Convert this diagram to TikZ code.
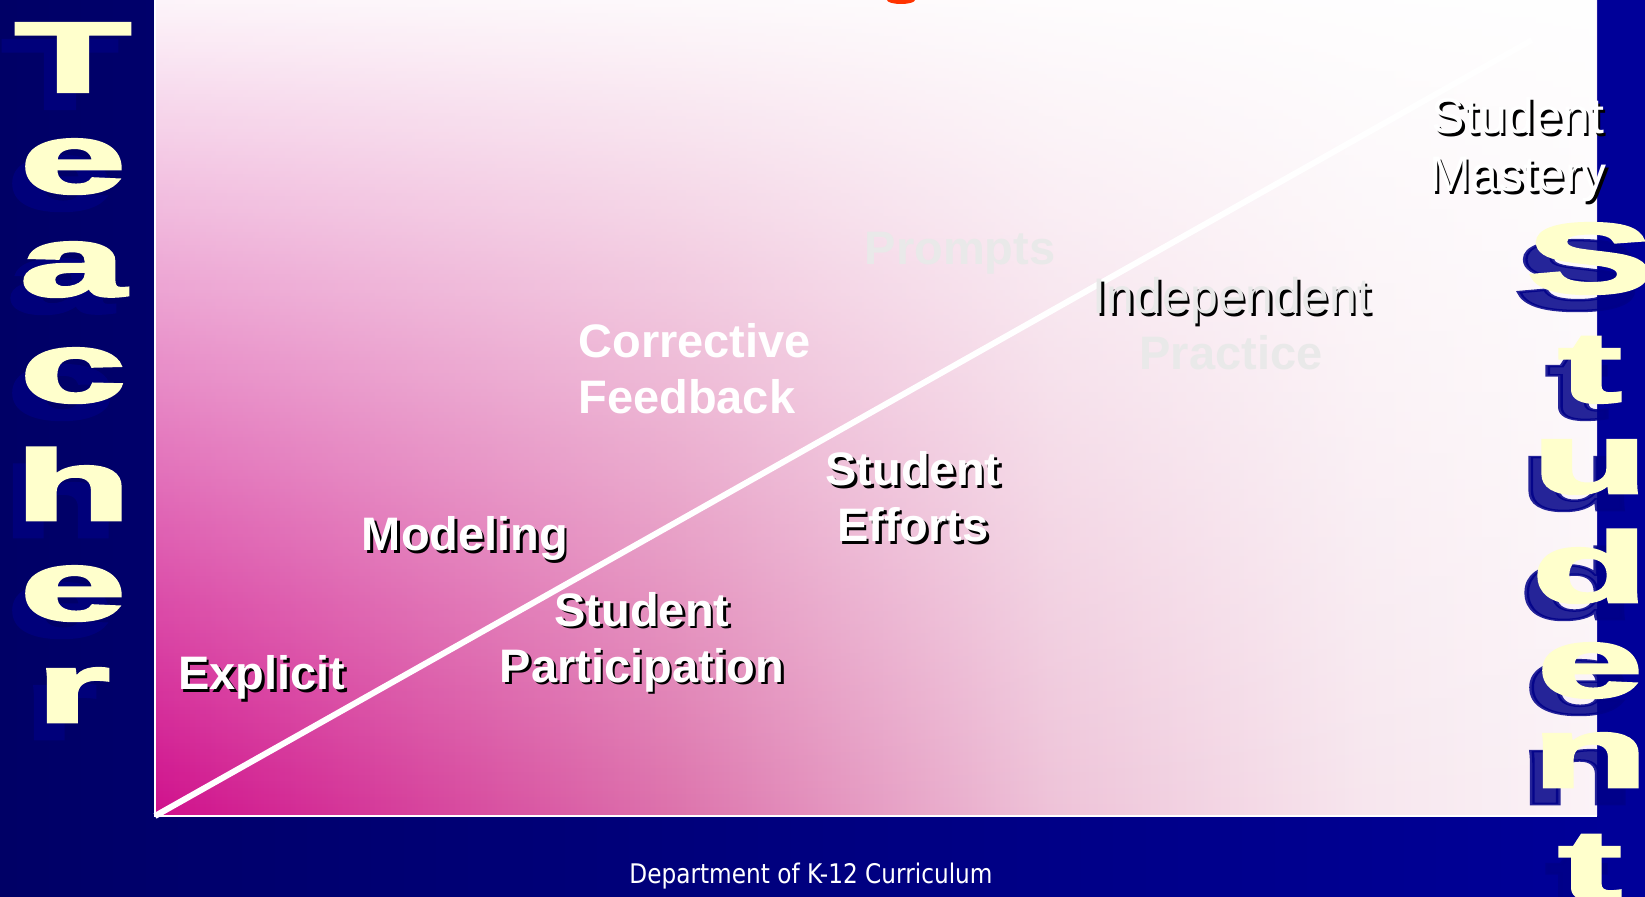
\documentclass[tikz,border=0pt]{standalone}
\usepackage{fontspec}
\usepackage{graphicx}
\setmainfont{Liberation Sans}
\newfontfamily\heavyfont[FakeBold=2.5]{Liberation Sans}
\newfontfamily\footfont{DejaVu Sans}
\usepackage{tikz}
\usetikzlibrary{fadings}

\definecolor{bgNavy}{HTML}{000066}
\definecolor{bgBlue}{HTML}{000099}
\definecolor{roseDeep}{HTML}{D0108C}
\definecolor{roseMid}{HTML}{DD72AC}
\definecolor{roseSoft}{HTML}{EEC2D8}
\definecolor{rosePale}{HTML}{F7E6EE}
\definecolor{roseWhite}{HTML}{FBF3F7}
\definecolor{creamText}{HTML}{FFFFCC}
\definecolor{letterShadow}{HTML}{00007A}
\definecolor{studShadowBlue}{HTML}{000088}
\definecolor{ghostGrey}{HTML}{E9E9E9}
\definecolor{titleOrange}{HTML}{FF3300}

% floor colour of the panel, left to right
\pgfdeclarehorizontalshading{roseFloor}{100bp}{color(0bp)=(roseDeep); color(25bp)=(roseDeep); color(43bp)=(roseMid); color(56bp)=(roseSoft); color(67bp)=(rosePale); color(75bp)=(roseWhite); color(100bp)=(roseWhite)}

% white label with a dark drop shadow
\newcommand{\ShadowLabel}[5][]{
    \node[lbl, #1, text=black] (#2-shadow) at (#3+2.5, #4+2.5) {#5};
    \node[lbl, #1] (#2) at (#3, #4) {#5};
}
\newcommand{\wideglyph}[1]{\scalebox{1.9}[1]{#1}}

\begin{document}
\begin{tikzpicture}[x=0.5pt, y=-0.5pt,
    lbl/.style={text=white, inner sep=0pt, align=center,
        font=\bfseries\fontsize{23.5}{28}\selectfont},
    lblthin/.style={font=\mdseries\fontsize{25}{29}\selectfont},
    ghost/.style={lbl, text=ghostGrey},
    bigletter/.style={anchor=base, inner sep=0pt, text=creamText,
        font=\heavyfont\bfseries\fontsize{50}{50}\selectfont},
    teachshadow/.style={bigletter, text=letterShadow},
    studshadow/.style={bigletter, text=studShadowBlue, text opacity=0.85},
    footer/.style={text=white, inner sep=0pt,
        font=\footfont\fontsize{13.5}{16}\selectfont}]

    \useasboundingbox (0,0) rectangle (1645,897);

    % --- background and panel ---
    \shade[left color=bgNavy, right color=bgBlue] (0,0) rectangle (1645,897);
    \shade[shading=roseFloor] (155,0) rectangle (1597,816);
    \fill[white, fill opacity=0.96, path fading=south] (155,0) rectangle (1597,816);
    \fill[titleOrange] (901,0) ellipse [x radius=14, y radius=4];

    \coordinate (frameTop) at (155,0);
    \coordinate (origin) at (155,816);
    \coordinate (frameEnd) at (1597,816);
    \coordinate (apex) at (1532,40);
    \draw[white, line width=1pt] (frameTop) -- (origin) -- (frameEnd);
    \draw[white, line width=3pt] (origin) -- (apex);

    % --- labels along the diagonal ---
    \ShadowLabel[anchor=base]{explicit}{262}{690}{Explicit}
    \ShadowLabel[anchor=base]{modeling}{465}{551}{Modeling}
    \ShadowLabel{participation}{642}{642}{Student\\Participation}
    \node[lbl, anchor=west, align=left] (feedback) at (578,369) {Corrective\\Feedback};
    \ShadowLabel{efforts}{913}{497}{Student\\Efforts}
    \node[ghost, anchor=base] (prompts) at (960,265) {Prompts};
    \ShadowLabel[anchor=base, lblthin, text=ghostGrey]{independent}{1232}{314}{Independent}
    \node[ghost, anchor=base] (practice) at (1231,370) {Practice};
    \ShadowLabel[lblthin]{mastery}{1518}{150}{Student\\Mastery}

    % --- side words ---
    \foreach \ch/\yb [count=\i] in {T/92, e/193, a/296, c/402, h/520, e/620, r/722} {
        \node[teachshadow] (teach-sh\i) at (60, \yb+17) {\wideglyph{\ch}};
        \node[bigletter] (teach\i) at (73, \yb) {\wideglyph{\ch}};
    }
    \foreach \ch/\yb [count=\i] in {S/293, t/402, u/493, d/602, e/697, n/787, t/900} {
        \node[studshadow] (stud-sh\i) at (1577, \yb+17) {\wideglyph{\ch}};
        \node[bigletter] (stud\i) at (1590, \yb) {\wideglyph{\ch}};
    }

    \node[footer] (dept) at (811,876) {\scalebox{0.86}[1]{Department of K-12 Curriculum}};
\end{tikzpicture}
\end{document}
